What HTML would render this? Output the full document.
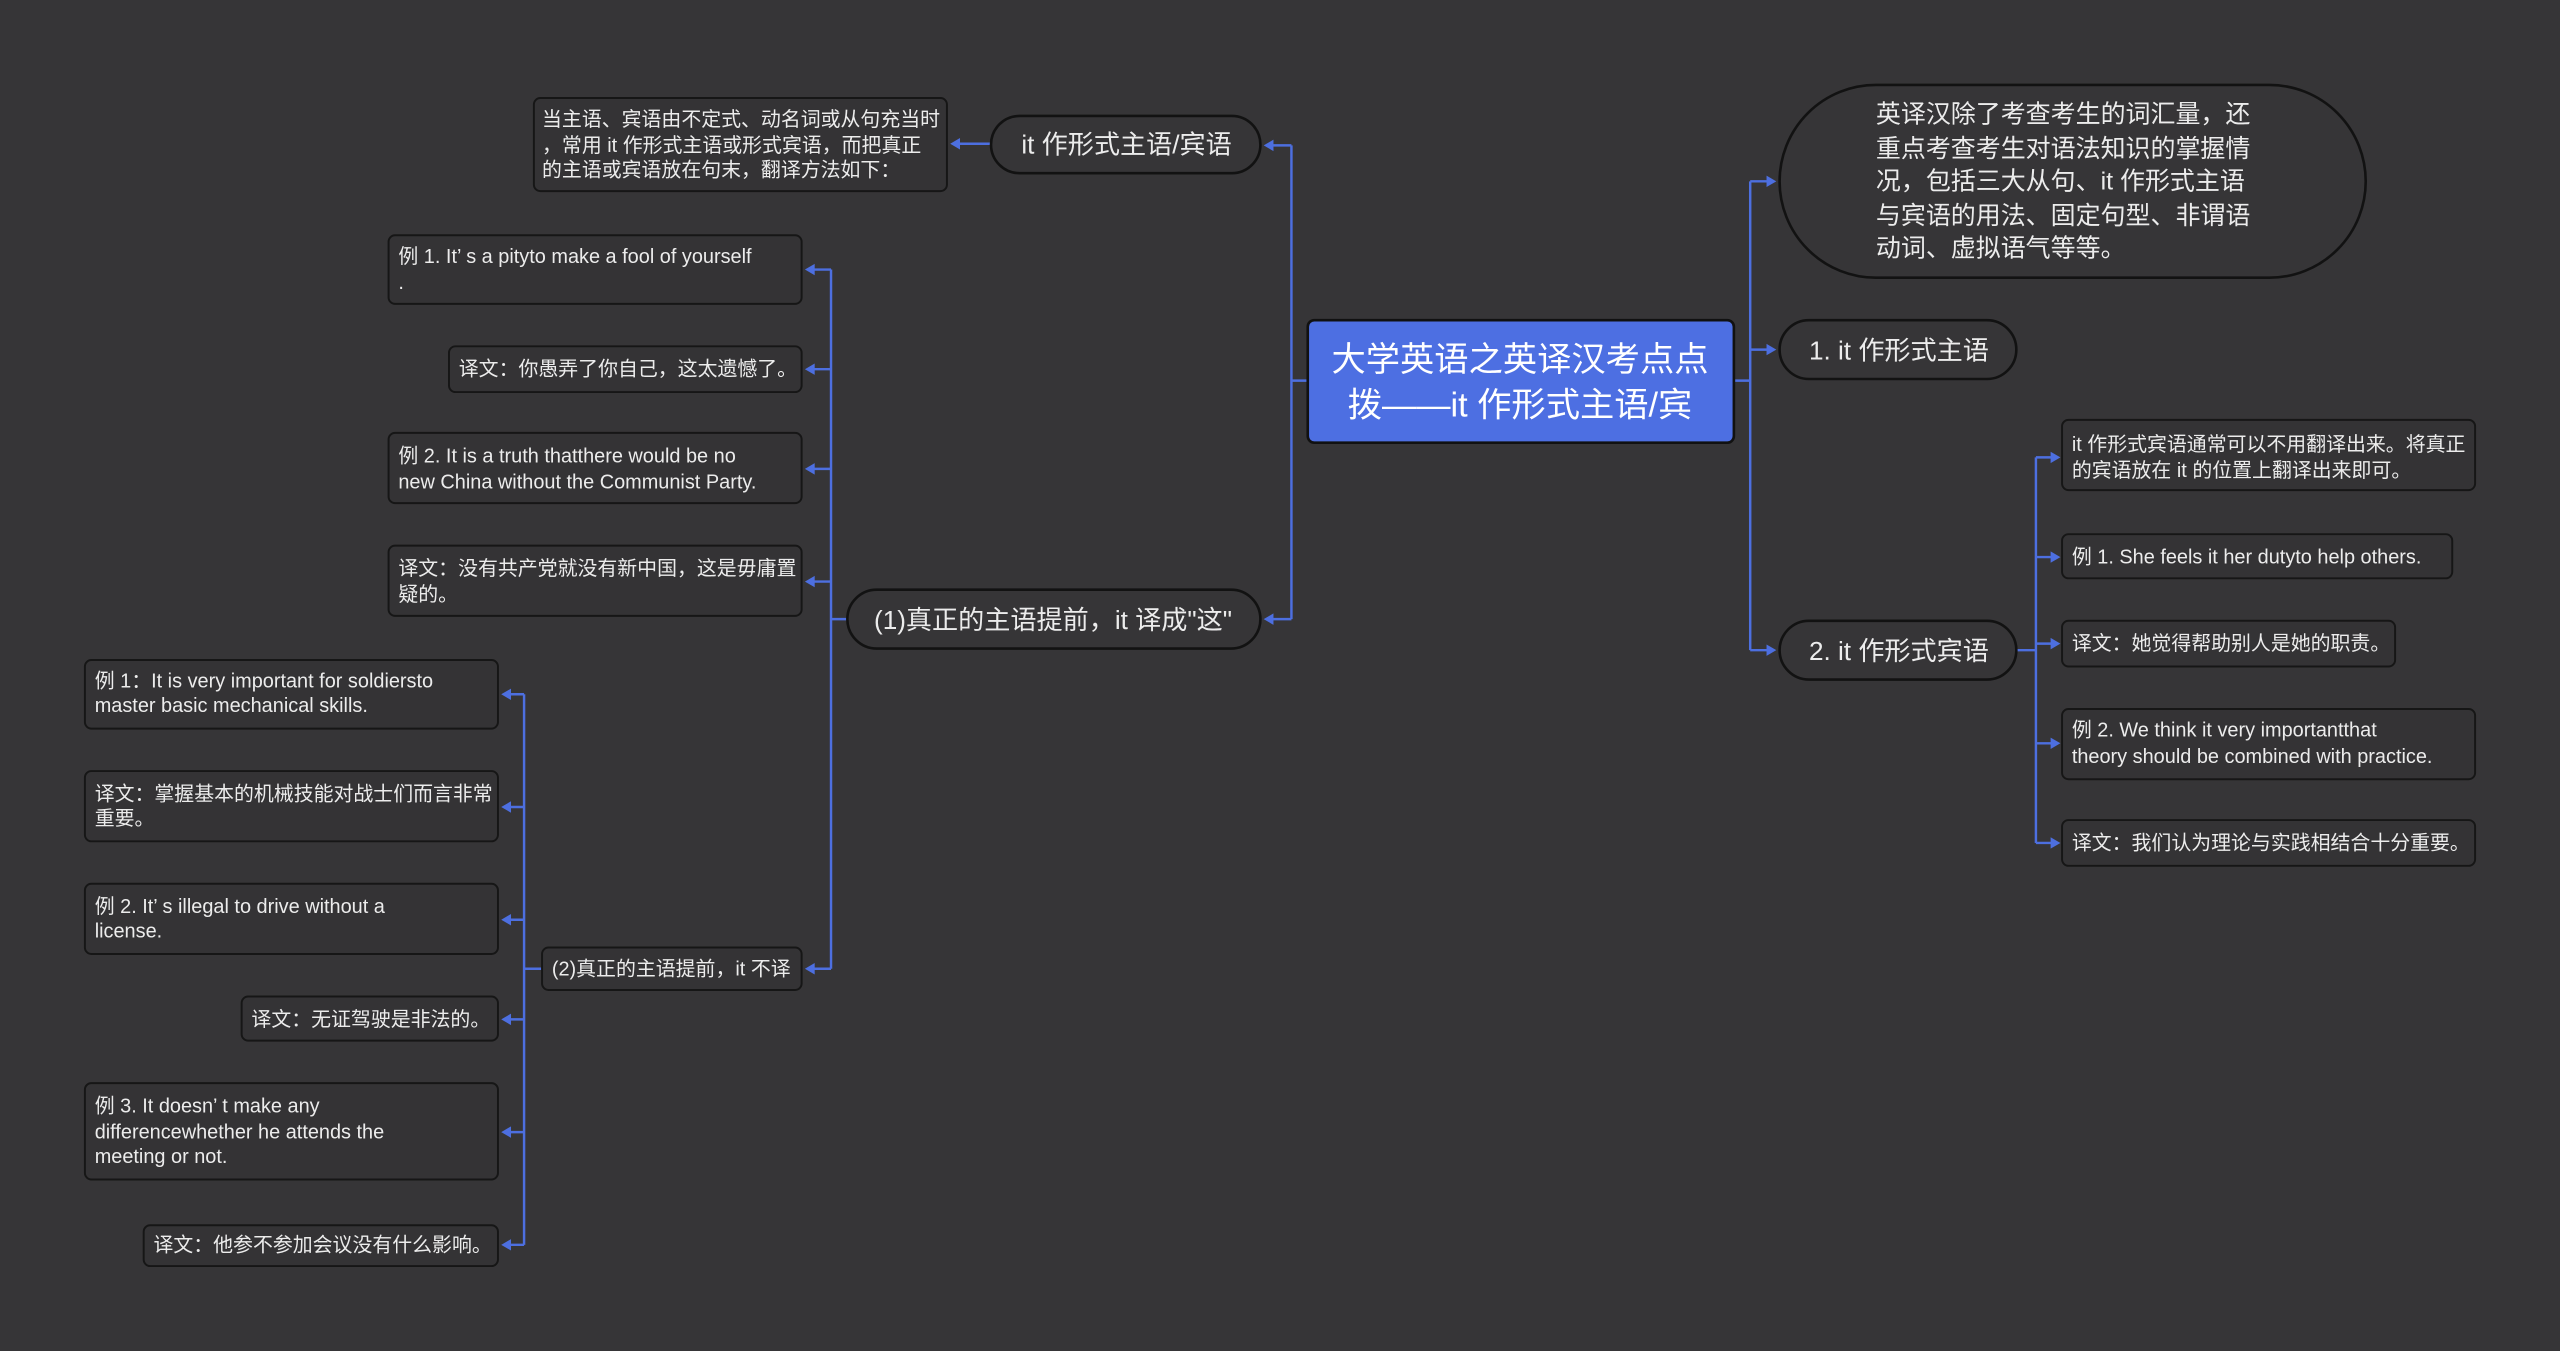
<!DOCTYPE html>
<html><head><meta charset="utf-8"><style>
html,body{margin:0;padding:0;background:#363537;}
svg{display:block}
text{font-family:"Liberation Sans","Noto Sans CJK SC",sans-serif;fill:#ececec;}
.b{fill:#343335;stroke:#161616;stroke-width:1.2}
.n{fill:#363537;stroke:#121212;stroke-width:1.6}
.l{stroke:#4d6fe0;stroke-width:1.5;fill:none}
.a{fill:#4d6fe0}
.s{font-size:12.2px}
.m{font-size:16px}
</style></head><body>
<svg width="2560" height="1351" viewBox="0 0 1568 827" preserveAspectRatio="none" xmlns="http://www.w3.org/2000/svg">
<rect width="1568" height="827" fill="#363537"/>
<!-- connectors right -->
<path class="l" d="M1062 233 H1072 M1072 111 V398 M1072 111 H1084 M1072 214 H1084 M1072 398 H1084"/>
<path class="a" d="M1088 111 l-6 -3.5 v7z M1088 214 l-6 -3.5 v7z M1088 398 l-6 -3.5 v7z"/>
<path class="l" d="M1235 398 H1247 M1247 280 V516 M1247 280 H1257 M1247 341 H1257 M1247 394 H1257 M1247 455 H1257 M1247 516 H1257"/>
<path class="a" d="M1262 280 l-6 -3.5 v7z M1262 341 l-6 -3.5 v7z M1262 394 l-6 -3.5 v7z M1262 455 l-6 -3.5 v7z M1262 516 l-6 -3.5 v7z"/>
<!-- connectors left -->
<path class="l" d="M801 233 H791 M791 89 V379 M791 89 H779 M791 379 H779"/>
<path class="a" d="M774 89 l6 -3.5 v7z M774 379 l6 -3.5 v7z"/>
<path class="l" d="M607 88 H588"/>
<path class="a" d="M582 88 l6 -3.5 v7z"/>
<path class="l" d="M519 379 H509 M509 165 V593 M509 165 H498 M509 226 H498 M509 287 H498 M509 356 H498 M509 593 H498"/>
<path class="a" d="M493 165 l6 -3.5 v7z M493 226 l6 -3.5 v7z M493 287 l6 -3.5 v7z M493 356 l6 -3.5 v7z M493 593 l6 -3.5 v7z"/>
<path class="l" d="M332 593 H321 M321 425 V762 M321 425 H312 M321 494 H312 M321 563 H312 M321 624 H312 M321 693 H312 M321 762 H312"/>
<path class="a" d="M307 425 l6 -3.5 v7z M307 494 l6 -3.5 v7z M307 563 l6 -3.5 v7z M307 624 l6 -3.5 v7z M307 693 l6 -3.5 v7z M307 762 l6 -3.5 v7z"/>

<!-- center -->
<rect x="801" y="196" width="261" height="75" rx="4" fill="#4d6fe2" stroke="#111" stroke-width="1.6"/>
<text x="931" y="227" text-anchor="middle" style="font-size:21px;fill:#fff">大学英语之英译汉考点点</text>
<text x="931" y="255" text-anchor="middle" style="font-size:21px;fill:#fff">拨——it 作形式主语/宾</text>

<!-- right nodes -->
<rect class="n" x="1090" y="52" width="359" height="118" rx="59"/>
<g style="font-size:15.3px">
<text x="1149" y="75">英译汉除了考查考生的词汇量，还</text>
<text x="1149" y="96">重点考查考生对语法知识的掌握情</text>
<text x="1149" y="116">况，包括三大从句、it 作形式主语</text>
<text x="1149" y="137">与宾语的用法、固定句型、非谓语</text>
<text x="1149" y="157">动词、虚拟语气等等。</text>
</g>
<rect class="n" x="1090" y="196" width="145" height="36" rx="18"/>
<text class="m" x="1108" y="220">1. it 作形式主语</text>
<rect class="n" x="1090" y="380" width="145" height="36" rx="18"/>
<text class="m" x="1108" y="404">2. it 作形式宾语</text>

<rect class="b" x="1263" y="257" width="253" height="43" rx="4"/>
<text class="s" x="1269" y="276">it 作形式宾语通常可以不用翻译出来。将真正</text>
<text class="s" x="1269" y="292">的宾语放在 it 的位置上翻译出来即可。</text>
<rect class="b" x="1263" y="327" width="239" height="27" rx="4"/>
<text class="s" x="1269" y="345">例 1. She feels it her dutyto help others.</text>
<rect class="b" x="1263" y="380" width="204" height="28" rx="4"/>
<text class="s" x="1269" y="398">译文：她觉得帮助别人是她的职责。</text>
<rect class="b" x="1263" y="434" width="253" height="43" rx="4"/>
<text class="s" x="1269" y="451">例 2. We think it very importantthat</text>
<text class="s" x="1269" y="467">theory should be combined with practice.</text>
<rect class="b" x="1263" y="502" width="253" height="28" rx="4"/>
<text class="s" x="1269" y="520">译文：我们认为理论与实践相结合十分重要。</text>

<!-- left nodes -->
<rect class="n" x="607" y="71" width="165" height="35" rx="17.5"/>
<text class="m" x="690" y="94" text-anchor="middle">it 作形式主语/宾语</text>
<rect class="n" x="519" y="361" width="253" height="36" rx="18"/>
<text class="m" x="645" y="385" text-anchor="middle">(1)真正的主语提前，it 译成"这"</text>

<rect class="b" x="327" y="60" width="253" height="57" rx="4"/>
<text class="s" x="332" y="77">当主语、宾语由不定式、动名词或从句充当时</text>
<text class="s" x="332" y="93">，常用 it 作形式主语或形式宾语，而把真正</text>
<text class="s" x="332" y="108">的主语或宾语放在句末，翻译方法如下：</text>

<rect class="b" x="238" y="144" width="253" height="42" rx="4"/>
<text class="s" x="244" y="161">例 1. It’ s a pityto make a fool of yourself</text>
<text class="s" x="244" y="177">.</text>
<rect class="b" x="275" y="212" width="216" height="28" rx="4"/>
<text class="s" x="281" y="230">译文：你愚弄了你自己，这太遗憾了。</text>
<rect class="b" x="238" y="265" width="253" height="43" rx="4"/>
<text class="s" x="244" y="283">例 2. It is a truth thatthere would be no</text>
<text class="s" x="244" y="299">new China without the Communist Party.</text>
<rect class="b" x="238" y="334" width="253" height="43" rx="4"/>
<text class="s" x="244" y="352">译文：没有共产党就没有新中国，这是毋庸置</text>
<text class="s" x="244" y="368">疑的。</text>
<rect class="b" x="332" y="580" width="159" height="26" rx="4"/>
<text class="s" x="338" y="597">(2)真正的主语提前，it 不译</text>

<rect class="b" x="52" y="404" width="253" height="42" rx="4"/>
<text class="s" x="58" y="421">例 1：It is very important for soldiersto</text>
<text class="s" x="58" y="436">master basic mechanical skills.</text>
<rect class="b" x="52" y="472" width="253" height="43" rx="4"/>
<text class="s" x="58" y="490">译文：掌握基本的机械技能对战士们而言非常</text>
<text class="s" x="58" y="505">重要。</text>
<rect class="b" x="52" y="541" width="253" height="43" rx="4"/>
<text class="s" x="58" y="559">例 2. It’ s illegal to drive without a</text>
<text class="s" x="58" y="574">license.</text>
<rect class="b" x="148" y="610" width="157" height="27" rx="4"/>
<text class="s" x="154" y="628">译文：无证驾驶是非法的。</text>
<rect class="b" x="52" y="663" width="253" height="59" rx="4"/>
<text class="s" x="58" y="681">例 3. It doesn’ t make any</text>
<text class="s" x="58" y="697">differencewhether he attends the</text>
<text class="s" x="58" y="712">meeting or not.</text>
<rect class="b" x="88" y="750" width="217" height="25" rx="4"/>
<text class="s" x="94" y="766">译文：他参不参加会议没有什么影响。</text>
</svg>
</body></html>
